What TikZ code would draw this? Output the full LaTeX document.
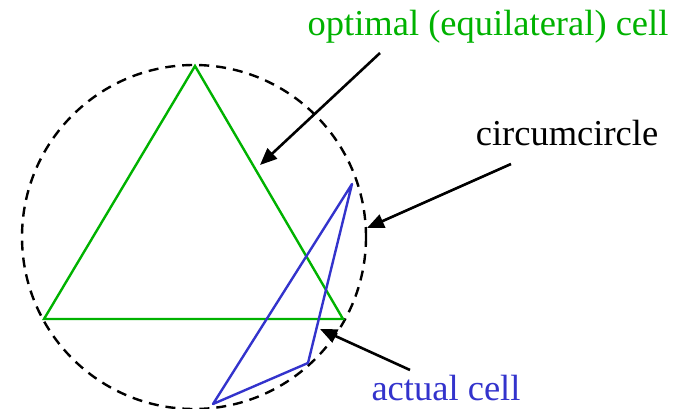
\documentclass[tikz,border=0pt]{standalone}
\usepackage{fontspec}
\setmainfont{Liberation Serif}
\usetikzlibrary{arrows.meta}
\definecolor{cellgreen}{RGB}{0,178,0}
\definecolor{cellblue}{RGB}{51,51,204}

\begin{document}
\begin{tikzpicture}[
  x=1pt,y=-1pt,
  font=\fontsize{36.5}{40}\selectfont,
  optimal/.style={draw=cellgreen,line width=2.4pt,line join=miter},
  actual/.style={draw=cellblue,line width=2.4pt,line join=round},
  circ/.style={draw,dash pattern=on 10pt off 7pt,line width=2.4pt},
  arrow/.style={-{Triangle[length=17pt,width=14pt]},line width=2.6pt},
  lbl/.style={anchor=base,inner sep=0pt}
]
\useasboundingbox (0,0) rectangle (691,409);
% optimal cell and its circumcircle
\coordinate (t1) at (195,66);
\coordinate (t2) at (44,319);
\coordinate (t3) at (343,319);
\coordinate (c) at (194,237);
\draw[circ] (c) circle (172pt);
\draw[optimal] (t1) -- (t2) -- (t3) -- cycle;
% actual cell
\coordinate (a1) at (352,184);
\coordinate (a2) at (213,404);
\coordinate (a3) at (308,363);
\draw[actual] (a1) -- (a2) -- (a3) -- cycle;

\node[lbl,text=cellgreen] (optlbl) at (488,36) {optimal (equilateral) cell};
\node[lbl] (circlbl) at (567,146) {circumcircle};
\node[lbl,text=cellblue] (actlbl) at (446,400) {actual cell};

\coordinate (s1) at (380,53);
\coordinate (e1) at (260,165);
\coordinate (s2) at (511,164);
\coordinate (e2) at (367,228);
\coordinate (s3) at (410,370);
\coordinate (e3) at (320,329);
\draw[arrow] (s1) -- (e1);
\draw[arrow] (s2) -- (e2);
\draw[arrow] (s3) -- (e3);
\end{tikzpicture}
\end{document}
